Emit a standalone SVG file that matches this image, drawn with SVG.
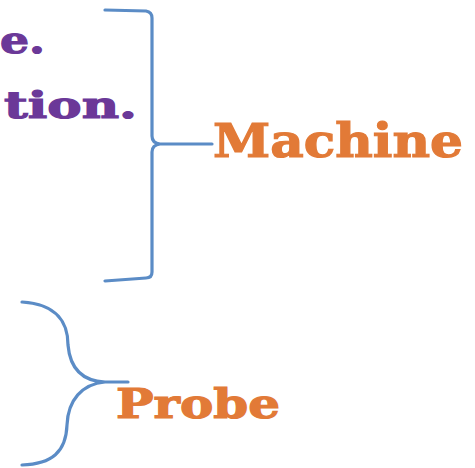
<svg xmlns="http://www.w3.org/2000/svg" width="475" height="468" viewBox="0 0 475 468">
<style>
.br{fill:none;stroke:#5b8cc6;stroke-width:3.2;stroke-linecap:round;stroke-linejoin:round}
.pt{font-family:"DejaVu Serif","Liberation Serif",serif;font-weight:bold;fill:#6b3898;stroke:#6b3898;stroke-width:1.2}
.ot{font-family:"DejaVu Serif","Liberation Serif",serif;font-weight:bold;fill:#e27a37;stroke:#e27a37;stroke-width:1.2}
</style>
<rect width="475" height="468" fill="#ffffff"/>
<g id="text-lines">
<text class="pt" x="0" y="53" font-size="38" textLength="45" lengthAdjust="spacingAndGlyphs">e.</text>
<text class="pt" x="4" y="118" font-size="37" textLength="133" lengthAdjust="spacingAndGlyphs">tion.</text>
</g>
<g id="connectors">
<path class="br" d="M105,10 L146,11 Q152,12 152,18 L152,136 Q152,143 160,144 L212,144 M160,144 Q152,145 152,152 L152,272 Q152,278 146,278 L105,281"/>
<path class="br" d="M22,302 C58,304 68,324 68,345 C70,368 82,381 105,382 L128,382 M105,382 C82,384 68,400 67,425 C66,452 52,464 22,465"/>
</g>
<g id="machine">
<text class="ot" x="213" y="157" font-size="46" textLength="250" lengthAdjust="spacingAndGlyphs">Machine</text>
</g>
<g id="probe">
<text class="ot" x="116" y="418" font-size="41" textLength="164" lengthAdjust="spacingAndGlyphs">Probe</text>
</g>
</svg>
